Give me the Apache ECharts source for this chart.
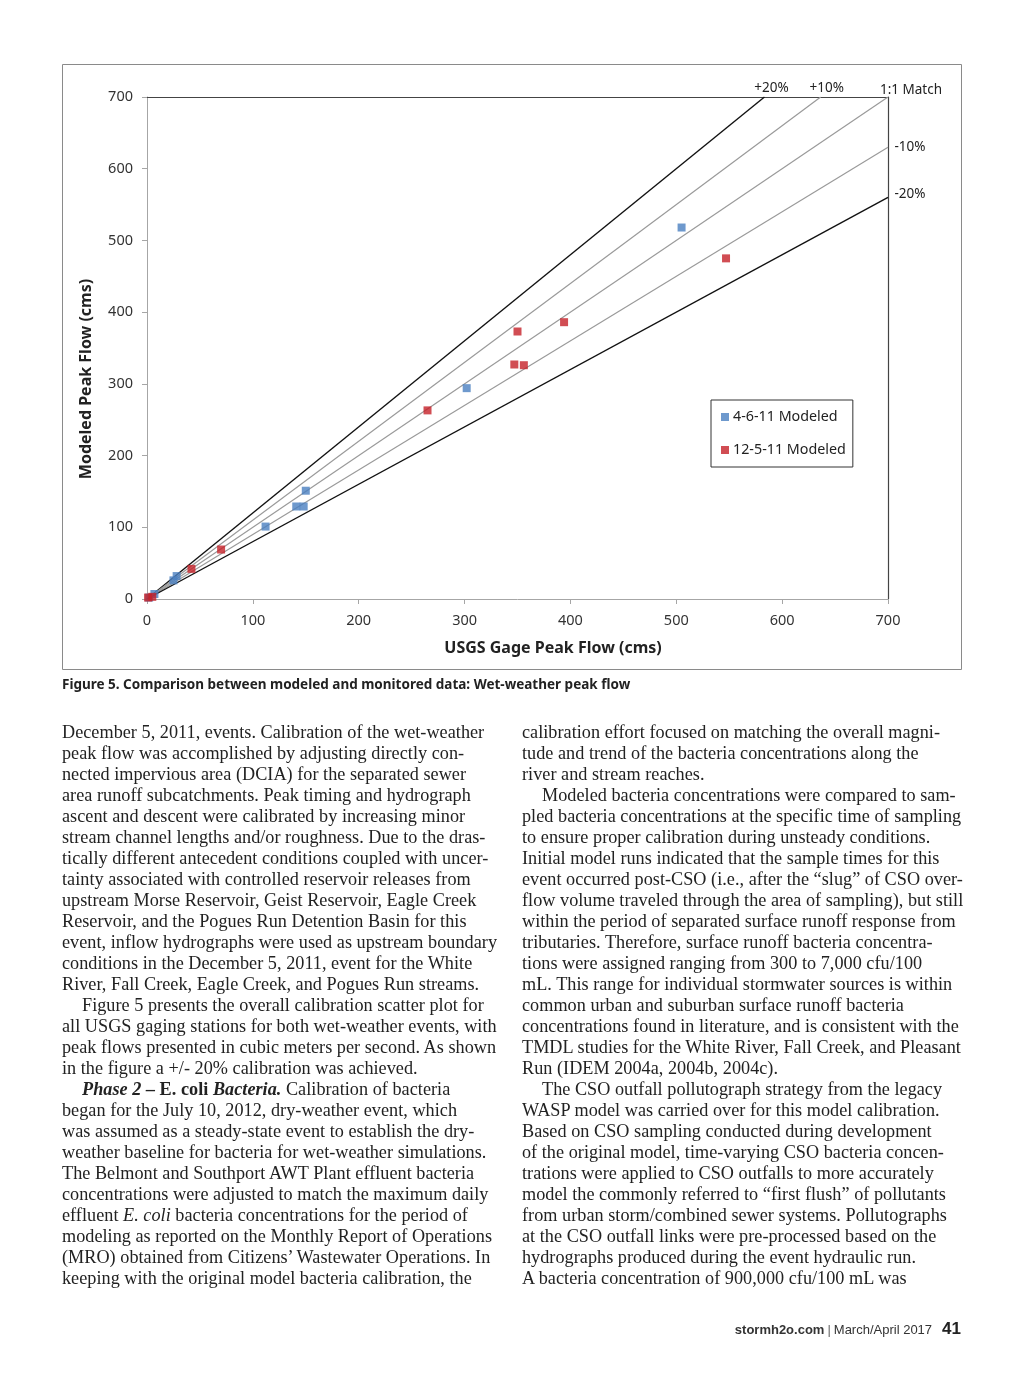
<!DOCTYPE html>
<html><head><meta charset="utf-8">
<script src="https://cdn.jsdelivr.net/npm/echarts@6/dist/echarts.min.js"></script>
<style>
html,body{margin:0;padding:0;background:#fff;}
#page{position:relative;width:1024px;height:1375px;overflow:hidden;background:#fff;}
#chart{position:absolute;left:0;top:0;width:1024px;height:1375px;}
.caption{position:absolute;left:62px;top:675px;font-family:"Noto Sans",sans-serif;font-weight:bold;font-size:13.5px;color:#222;white-space:nowrap;}
.col{position:absolute;top:722px;font-family:"Liberation Serif",serif;font-size:18.2px;letter-spacing:0.03px;line-height:21px;color:#222;white-space:nowrap;}
.col div{height:21px;}
.ind{padding-left:20px;}
#left{left:62px;}
#right{left:522px;}
.footer{position:absolute;right:63px;top:1319px;font-family:"Liberation Sans",sans-serif;color:#333;white-space:nowrap;}
.footer .site{font-weight:bold;font-size:13px;}
.footer .sep{font-size:13px;color:#666;padding:0 3px;}
.footer .date{font-size:13px;}
.footer .pg{font-weight:bold;font-size:17px;padding-left:10px;color:#222;}
</style></head>
<body><div id="page">
<div id="chart"></div>
<div class="caption">Figure 5. Comparison between modeled and monitored data: Wet-weather peak flow</div>
<div class="col" id="left">
<div>December 5, 2011, events. Calibration of the wet-weather</div>
<div>peak flow was accomplished by adjusting directly con-</div>
<div>nected impervious area (DCIA) for the separated sewer</div>
<div>area runoff subcatchments. Peak timing and hydrograph</div>
<div>ascent and descent were calibrated by increasing minor</div>
<div>stream channel lengths and/or roughness. Due to the dras-</div>
<div>tically different antecedent conditions coupled with uncer-</div>
<div>tainty associated with controlled reservoir releases from</div>
<div>upstream Morse Reservoir, Geist Reservoir, Eagle Creek</div>
<div>Reservoir, and the Pogues Run Detention Basin for this</div>
<div>event, inflow hydrographs were used as upstream boundary</div>
<div>conditions in the December 5, 2011, event for the White</div>
<div>River, Fall Creek, Eagle Creek, and Pogues Run streams.</div>
<div class="ind">Figure 5 presents the overall calibration scatter plot for</div>
<div>all USGS gaging stations for both wet-weather events, with</div>
<div>peak flows presented in cubic meters per second. As shown</div>
<div>in the figure a +/- 20% calibration was achieved.</div>
<div class="ind"><b><i>Phase 2 – </i>E. coli<i> Bacteria.</i></b> Calibration of bacteria</div>
<div>began for the July 10, 2012, dry-weather event, which</div>
<div>was assumed as a steady-state event to establish the dry-</div>
<div>weather baseline for bacteria for wet-weather simulations.</div>
<div>The Belmont and Southport AWT Plant effluent bacteria</div>
<div>concentrations were adjusted to match the maximum daily</div>
<div>effluent <i>E. coli</i> bacteria concentrations for the period of</div>
<div>modeling as reported on the Monthly Report of Operations</div>
<div>(MRO) obtained from Citizens’ Wastewater Operations. In</div>
<div>keeping with the original model bacteria calibration, the</div>
</div>
<div class="col" id="right">
<div>calibration effort focused on matching the overall magni-</div>
<div>tude and trend of the bacteria concentrations along the</div>
<div>river and stream reaches.</div>
<div class="ind">Modeled bacteria concentrations were compared to sam-</div>
<div>pled bacteria concentrations at the specific time of sampling</div>
<div>to ensure proper calibration during unsteady conditions.</div>
<div>Initial model runs indicated that the sample times for this</div>
<div>event occurred post-CSO (i.e., after the “slug” of CSO over-</div>
<div>flow volume traveled through the area of sampling), but still</div>
<div>within the period of separated surface runoff response from</div>
<div>tributaries. Therefore, surface runoff bacteria concentra-</div>
<div>tions were assigned ranging from 300 to 7,000 cfu/100</div>
<div>mL. This range for individual stormwater sources is within</div>
<div>common urban and suburban surface runoff bacteria</div>
<div>concentrations found in literature, and is consistent with the</div>
<div>TMDL studies for the White River, Fall Creek, and Pleasant</div>
<div>Run (IDEM 2004a, 2004b, 2004c).</div>
<div class="ind">The CSO outfall pollutograph strategy from the legacy</div>
<div>WASP model was carried over for this model calibration.</div>
<div>Based on CSO sampling conducted during development</div>
<div>of the original model, time-varying CSO bacteria concen-</div>
<div>trations were applied to CSO outfalls to more accurately</div>
<div>model the commonly referred to “first flush” of pollutants</div>
<div>from urban storm/combined sewer systems. Pollutographs</div>
<div>at the CSO outfall links were pre-processed based on the</div>
<div>hydrographs produced during the event hydraulic run.</div>
<div>A bacteria concentration of 900,000 cfu/100 mL was</div>
</div>
<div class="footer"><span class="site">stormh2o.com</span><span class="sep">|</span><span class="date">March/April 2017</span><span class="pg">41</span></div>
</div>
<script>
// ---- data ----
const xTickValues = [0, 100, 200, 300, 400, 500, 600, 700];
const yTickValues = [0, 100, 200, 300, 400, 500, 600, 700];
const xTitle = 'USGS Gage Peak Flow (cms)';
const yTitle = 'Modeled Peak Flow (cms)';
const seriesNames = ['4-6-11 Modeled', '12-5-11 Modeled'];
const modeled_4_6_11 = [[505,518],[302,294],[150,151],[141,129],[148,129],[112,101],[28,32],[25,26],[7,7],[2,2]];
const modeled_12_5_11 = [[547,475],[394,386],[350,373],[347,327],[356,326],[265,263],[70,69],[42,42],[5,3],[1,2]];
const refLineNames = ['+20%', '+10%', '1:1 Match', '-10%', '-20%'];
const refLineEnds = [[583.3,700],[636.4,700],[700,700],[700,630],[700,560]];

const chart = echarts.init(document.getElementById('chart'), null, {renderer:'canvas'});
const font = '"Noto Sans", sans-serif';
const labelSpecs = [
  {position:'top', offset:[7,5]},
  {position:'top', offset:[6,5]},
  {position:'top', offset:[23,7]},
  {position:'right', offset:[0,0]},
  {position:'right', offset:[0,-3]}
];
const lineColors = ['#111','#9a9a9a','#9a9a9a','#9a9a9a','#111'];
const lineWidths = [1.4,1.2,1.2,1.2,1.4];

const refSeries = refLineNames.map((n,i)=>({
  name:n, type:'line', xAxisIndex:0, yAxisIndex:0,
  data:[[0,0], refLineEnds[i]], showSymbol:false, symbol:'none', silent:true,
  lineStyle:{color:lineColors[i], width:lineWidths[i]}, z:2,
  markPoint:{
    symbol:'rect', symbolSize:1, itemStyle:{color:'rgba(0,0,0,0)'}, silent:true,
    data:[{coord:refLineEnds[i], label:{show:true, formatter:n, position:labelSpecs[i].position, offset:labelSpecs[i].offset, distance:6, color:'#222', fontFamily:font, fontSize:13.5}}]
  }
}));

const option = {
  animation:false,
  backgroundColor:'rgba(0,0,0,0)',
  grid:{left:147, top:97, width:741, height:502, containLabel:false},
  xAxis:[
    {type:'value', min:0, max:700, interval:100, position:'bottom',
     axisLine:{show:true, lineStyle:{color:'#a6a6a6', width:1}},
     axisTick:{show:true, length:5, lineStyle:{color:'#a6a6a6'}},
     axisLabel:{color:'#333', fontSize:14.5, fontFamily:font, margin:14,
       formatter:v=>xTickValues.includes(v)?String(v):''},
     splitLine:{show:false}},
    {type:'value', min:0, max:700, position:'top',
     axisLine:{show:true, onZero:false, lineStyle:{color:'#444', width:1.2}},
     axisTick:{show:false}, axisLabel:{show:false}, splitLine:{show:false}}
  ],
  yAxis:[
    {type:'value', min:0, max:700, interval:100, position:'left',
     axisLine:{show:true, lineStyle:{color:'#a6a6a6', width:1}},
     axisTick:{show:true, length:5, lineStyle:{color:'#a6a6a6'}},
     axisLabel:{color:'#333', fontSize:14.5, fontFamily:font, margin:14,
       formatter:v=>yTickValues.includes(v)?String(v):''},
     splitLine:{show:false}},
    {type:'value', min:0, max:700, position:'right',
     axisLine:{show:true, onZero:false, lineStyle:{color:'#444', width:1.2}},
     axisTick:{show:false}, axisLabel:{show:false}, splitLine:{show:false}}
  ],
  legend:{
    data:seriesNames, orient:'vertical', left:711, top:400,
    borderColor:'#333', borderWidth:1, padding:[10,7,10,10], itemGap:19,
    itemWidth:8, itemHeight:8, icon:'rect',
    textStyle:{color:'#222', fontSize:14.3, fontFamily:font, padding:[0,0,0,-1]}
  },
  series:[
    ...refSeries,
    {name:seriesNames[0], type:'scatter', data:modeled_4_6_11, symbol:'rect', symbolSize:8,
     itemStyle:{color:'#4a7fc1'}, z:5},
    {name:seriesNames[1], type:'scatter', data:modeled_12_5_11, symbol:'rect', symbolSize:8,
     itemStyle:{color:'#c62128'}, z:5}
  ],
  graphic:[
    {type:'rect', shape:{x:62.5, y:64.5, width:899, height:605}, style:{fill:'none', stroke:'#8a8a8a', lineWidth:1}, z:-1, silent:true},
    {type:'text', x:553, y:648, style:{text:xTitle, fill:'#222', font:'bold 16px "Noto Sans", sans-serif', textAlign:'center', textVerticalAlign:'middle'}},
    {type:'text', x:86, y:379, rotation:Math.PI/2, style:{text:yTitle, fill:'#222', font:'bold 16px "Noto Sans", sans-serif', textAlign:'center', textVerticalAlign:'middle'}}
  ]
};
chart.setOption(option);
</script>
</body></html>
